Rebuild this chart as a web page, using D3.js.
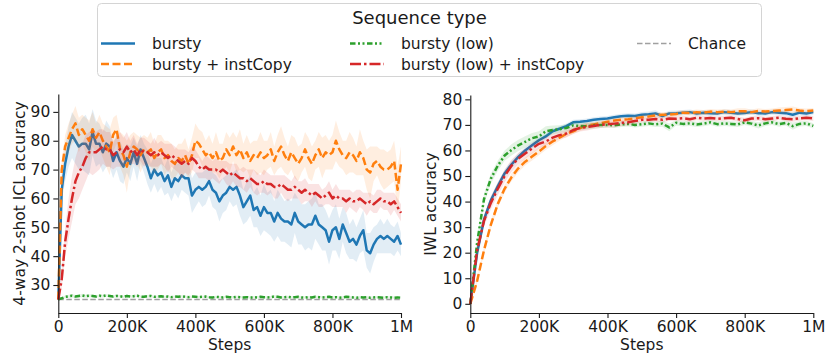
<!DOCTYPE html>
<html><head><meta charset="utf-8">
<script src="https://cdn.jsdelivr.net/npm/d3@7"></script>
<style>
html,body{margin:0;padding:0;background:#fff;}
svg text{font-family:"DejaVu Sans",sans-serif;fill:#1a1a1a;}
</style></head>
<body><svg id="c" width="826" height="354"></svg>
<script>
// ---------- DATA ----------
const seriesNames = ["bursty", "bursty + instCopy", "bursty (low)", "bursty (low) + instCopy"];
const chanceLabel = "Chance";
const legendTitle = "Sequence type";
const leftYLabel = "4-way 2-shot ICL accuracy";
const rightYLabel = "IWL accuracy";
const xLabel = "Steps";
const xTickValues = [0, 200000, 400000, 600000, 800000, 1000000];
const xTickLabels = ["0", "200K", "400K", "600K", "800K", "1M"];
const leftYTicks = [30, 40, 50, 60, 70, 80, 90];
const rightYTicks = [0, 10, 20, 30, 40, 50, 60, 70, 80];
const chanceValue = 25;

// left panel: evaluated every 10K steps
const leftSteps = d3.range(0, 1000001, 10000);
const leftBursty = [25,63,72,78,82,80,78,79,79,77,
 83,79,79,76,79,78,73,76,73,71,
 74,72,76,72,77,74,71,67,70,68,
 69,66,68,64,67,66,68,67,67,61,
 63,64,63,64,66,63,62,59,61,62,
 64,63,64,61,57,59,61,56,57,54,
 57,55,55,52,55,53,52,52,51,55,
 52,51,50,51,51,54,51,50,49,45,
 49,50,46,51,48,45,46,44,47,49,
 42,41,44,46,47,46,47,46,45,47,
 44];
const leftBurstyCopy = [25,70,78,81,84,86,82,84,82,80,
 84,81,83,80,78,76,82,84,77,75,
 71,76,78,77,75,77,76,77,74,76,
 77,74,75,73,72,74,73,75,72,75,
 80,79,77,75,76,74,76,73,74,77,
 75,78,75,77,74,76,73,75,74,76,
 74,75,77,73,76,78,75,73,76,74,
 72,74,77,74,72,75,77,74,76,75,
 76,80,77,75,74,76,75,73,76,74,
 70,69,72,73,71,70,70,71,73,63,
 72];
const leftLow = [25,25.4,25.9,26.1,26.3,26.0,26.2,26.4,26.1,26.3,
 26.2,26.0,26.3,26.1,26.4,26.2,26.0,26.2,26.1,25.9,
 26.2,26.0,26.1,26.3,26.0,25.9,26.1,26.2,25.9,26.0,
 26.1,25.9,26.0,25.8,26.0,25.9,26.1,25.9,25.8,26.0,
 25.9,25.8,25.9,26.0,25.8,25.7,25.9,25.8,25.7,25.9,
 25.8,25.7,25.9,25.8,25.7,25.8,25.6,25.8,25.7,25.9,
 25.8,25.7,25.8,26.0,25.9,25.7,25.8,25.9,25.7,25.8,
 25.9,25.7,25.6,25.8,25.7,25.9,25.8,25.7,25.8,25.9,
 25.7,25.8,25.6,25.7,25.9,25.8,25.7,25.6,25.8,25.7,
 25.8,25.6,25.7,25.8,25.7,25.6,25.8,25.7,25.6,25.7,
 25.6];
const leftLowCopy = [25,32,45,53,60,66,69,71,74,76,
 76,76,77,78,77,77,75,76,77,76,
 78,76,77,75,77,76,76,75,76,75,
 76,75,74,75,74,73,72,73,72,74,
 73,71,70,71,70,70,70,69,70,69,
 68,69,68,67,67,66,67,66,65,65,
 66,65,65,64,64,65,64,63,63,64,
 63,62,63,62,61,62,61,60,61,62,
 60,61,60,60,59,60,59,59,60,59,
 58,59,58,59,60,59,59,58,59,57,
 55];
// band half-widths (left)
const leftBurstyBand = [0,4,6,7,8,8,8,9,10,9,
 8,8,7,7,8,7,6,6,7,6,
 5,6,5,6,5,5,6,5,5,6,
 5,5,6,5,5,6,5,5,6,6,
 6,5,6,6,5,6,6,7,6,6,
 5,6,6,7,6,7,7,6,7,7,
 8,7,8,7,8,8,7,8,8,7,
 8,7,8,8,9,8,7,8,7,8,
 7,8,7,6,7,6,7,6,6,7,
 6,7,6,5,6,5,6,5,5,5,
 4];
const leftBurstyCopyBand = [0,3,4,5,5,6,6,5,6,7,
 6,5,6,6,7,8,6,5,6,7,
 9,6,5,5,6,5,5,6,5,6,
 5,6,5,6,5,5,6,6,5,6,
 6,5,6,5,6,5,7,6,5,6,
 6,5,6,7,5,6,6,5,6,7,
 6,5,6,5,6,7,6,5,6,7,
 6,5,6,7,6,5,6,7,6,5,
 6,7,6,5,6,7,6,5,8,6,
 7,9,6,5,6,7,6,6,7,8,
 6];
const leftLowBand = [0,0.4,0.5,0.5,0.6,0.5,0.5,0.6,0.5,0.5,
 0.5,0.4,0.5,0.5,0.4,0.5,0.4,0.5,0.4,0.4,
 0.4,0.4,0.5,0.4,0.4,0.4,0.4,0.5,0.4,0.4,
 0.4,0.4,0.4,0.4,0.4,0.4,0.4,0.4,0.4,0.4,
 0.4,0.4,0.4,0.4,0.4,0.4,0.4,0.4,0.4,0.4,
 0.4,0.4,0.4,0.4,0.4,0.4,0.4,0.4,0.4,0.4,
 0.4,0.4,0.4,0.5,0.4,0.4,0.4,0.4,0.4,0.4,
 0.4,0.4,0.4,0.4,0.4,0.4,0.4,0.4,0.4,0.4,
 0.4,0.4,0.4,0.4,0.4,0.4,0.4,0.4,0.4,0.4,
 0.4,0.4,0.4,0.4,0.4,0.4,0.4,0.4,0.4,0.4,
 0.4];
const leftLowCopyBand = [0,3,5,7,8,8,9,8,8,7,
 8,7,7,6,6,6,5,5,6,5,
 5,4,5,4,4,5,4,4,5,4,
 4,4,5,4,4,4,5,4,4,4,
 4,4,3,4,4,3,4,4,3,4,
 4,3,4,3,4,4,3,4,4,3,
 4,4,3,4,4,3,4,4,3,4,
 3,4,4,3,4,3,4,3,3,4,
 3,4,3,3,4,3,3,4,3,3,
 4,3,3,4,3,3,3,4,3,3,
 3];

// right panel: evaluated every 20K steps
const rightSteps = d3.range(0, 1000001, 20000);
const rightBursty = [0,20,33,40.5,46,51,54.5,57.5,60,62,
 64,65.5,67.5,68.5,69.5,71,71.2,71.5,72,72.3,
 72.5,73,73.4,73.6,73.5,74,74.2,74.5,73.5,74.5,
 74.6,74.8,75,74.5,74.8,74.6,74.5,75,74.8,74.5,
 74.7,75,74.6,74.5,75,74.8,74.6,74,74.8,74.5,
 75];
const rightBurstyCopy = [0,9,21,31,39,45,49.5,53,55.6,57.6,
 59.6,61.7,63.5,65,66.5,67.5,68.8,69.7,70.2,70.7,
 71.2,71.7,72,72.2,72.6,73,73.3,73.7,74,74,
 74.3,74.8,74.6,75,74.8,75.2,75,75.2,75,75.3,
 75.3,75,75.5,75.2,75.4,75.6,75.8,76,75.6,75.4,
 75.6];
const rightLow = [0,24,41,49,54,58,60.2,62,63.4,64.8,
 65.5,67.5,68,68.3,68.8,69.8,69.6,69.5,69.8,70,
 70,69.8,70.2,70.4,70,70.3,70.6,70.2,70.5,69,
 70.8,70.4,70.6,70.2,70.5,71,70.3,70.6,70.4,70.2,
 71,70.5,69.8,70.6,71,70.3,70.8,69.5,70.4,70.6,
 69.6];
const rightLowCopy = [0,21,32.5,39.5,45,50,54,56.8,58.8,60.8,
 62.6,63.5,65,66,66.6,68,68.8,69.2,69.6,70,
 70.2,70.5,70.8,71,71.5,72,72,72.3,72,72.5,
 72.4,72.6,72.2,72.8,72.5,72.7,72.4,72.6,72.8,72.3,
 71.8,72.5,72.6,72.2,72.5,72.8,72.4,72.2,72.6,72.8,
 72.5];
const rightBurstyBand = [0,1.5,1.5,1.5,1.5,1.5,1.5,1.4,1.3,1.2,
 1.2,1.1,1,1,1,1,1,1,1,1,
 1,1,1,1,1,1,1,1.2,1,1,
 1,1,1,1,1,1,1,1,1,1,
 1,1,1,1,1,1,1,1,1,1,
 1];
const rightBurstyCopyBand = [0,1,1.5,1.5,1.5,1.5,1.5,1.5,1.5,1.5,
 1.5,1.5,1.5,1.2,1.2,1.2,1.2,1.2,1,1,
 1,1,1,1,1,1,1,1,1,1,
 1,1,1,1,1,1,1,1,1,1.2,
 1.2,1,1,1,1,1.2,1.2,1.2,1,1,
 1];
const rightLowBand = [0,2,2,2,2,2,2.2,2.2,2.2,2,
 2,2,1.8,1.6,1.5,1.5,1.4,1.3,1.2,1.2,
 1,1,1,1,1,1,1,1,1.2,1.5,
 1,1,1,1,1,1,1,1,1,1,
 1,1,1.2,1,1,1,1,1.4,1,1,
 1];
const rightLowCopyBand = [0,2,2.2,2.5,2.5,2.5,2.4,2.2,2,2,
 1.8,1.8,1.6,1.5,1.5,1.5,1.4,1.4,1.2,1.2,
 1.2,1.5,1.2,1.2,1.2,1,1,1,1,1,
 1,1,1,1,1,1,1,1,1,1,
 1,1,1,1,1,1,1,1,1,1,
 1];

// ---------- STYLE ----------
const colors = ["#1f77b4", "#ff7f0e", "#2ca02c", "#d62728"];
const dashes = [null, "8,3.5", "5.5,2.5,2,2.5,2,2.5", "11,3,2.5,3"];
const chanceColor = "#a0a0a0";
const chanceDash = "5.5,2.5";
const lineW = 2.5;

const svg = d3.select("#c");

function panel(opts) {
  const x = d3.scaleLinear().domain([0, 1000000]).range(opts.xr);
  const y = d3.scaleLinear().domain(opts.yd).range(opts.yr);
  const g = svg.append("g");
  const steps = opts.steps;
  opts.series.forEach((vals, i) => {
    const band = opts.bands[i];
    const area = d3.area()
      .x((d, j) => x(steps[j]))
      .y0((d, j) => y(vals[j] - band[j]))
      .y1((d, j) => y(vals[j] + band[j]));
    g.append("path").attr("d", area(vals))
      .attr("fill", colors[i]).attr("fill-opacity", 0.13).attr("stroke", "none");
    if (opts.chance && i === 2) {
      g.append("path")
        .attr("d", d3.line()([[x(0), y(chanceValue)], [x(1000000), y(chanceValue)]]))
        .attr("stroke", chanceColor).attr("stroke-width", 1.6)
        .attr("stroke-dasharray", chanceDash).attr("fill", "none");
    }
    const line = d3.line().x((d, j) => x(steps[j])).y(d => y(d));
    g.append("path").attr("d", line(vals))
      .attr("fill", "none").attr("stroke", colors[i]).attr("stroke-width", lineW)
      .attr("stroke-dasharray", dashes[i]).attr("stroke-linejoin", "round");
  });
  // axes
  const xa = d3.axisBottom(x).tickValues(xTickValues)
    .tickFormat((d, i) => xTickLabels[i]).tickSize(5).tickPadding(3).tickSizeOuter(0);
  const ya = d3.axisLeft(y).tickValues(opts.yticks).tickSize(5).tickPadding(3).tickSizeOuter(0);
  const gx = g.append("g").attr("transform", `translate(0,${opts.yr[0]})`).call(xa);
  const gy = g.append("g").attr("transform", `translate(${opts.xr[0]},0)`).call(ya);
  [gx, gy].forEach(a => {
    a.selectAll("text").style("font-size", "15.5px").style("font-family", "DejaVu Sans").attr("fill", "#1a1a1a");
    a.selectAll("line").attr("stroke", "#1a1a1a").attr("stroke-width", 1.1);
    a.select(".domain").attr("stroke", "#1a1a1a").attr("stroke-width", 1.1);
  });
  g.append("text").attr("x", (opts.xr[0] + opts.xr[1]) / 2).attr("y", 350)
    .attr("text-anchor", "middle").style("font-size", "15.5px").text(xLabel);
  g.append("text").attr("transform", `translate(${opts.ylx},${(opts.yr[0] + opts.yr[1]) / 2}) rotate(-90)`)
    .attr("text-anchor", "middle").style("font-size", "15.5px").text(opts.ylabel);
}

panel({
  xr: [58.3, 401], yd: [20.3, 96.2], yr: [313, 94], steps: leftSteps,
  series: [leftBursty, leftBurstyCopy, leftLow, leftLowCopy],
  bands: [leftBurstyBand, leftBurstyCopyBand, leftLowBand, leftLowCopyBand],
  yticks: leftYTicks, ylabel: leftYLabel, ylx: 25, chance: true
});
panel({
  xr: [470.3, 813.3], yd: [-3.6, 81.7], yr: [313, 95], steps: rightSteps,
  series: [rightBursty, rightBurstyCopy, rightLow, rightLowCopy],
  bands: [rightBurstyBand, rightBurstyCopyBand, rightLowBand, rightLowCopyBand],
  yticks: rightYTicks, ylabel: rightYLabel, ylx: 436, chance: false
});

// ---------- LEGEND ----------
const lg = svg.append("g");
lg.append("rect").attr("x", 97.5).attr("y", 3.5).attr("width", 664).attr("height", 73)
  .attr("rx", 4).attr("fill", "#fff").attr("fill-opacity", 0.85)
  .attr("stroke", "#d4d4d4").attr("stroke-width", 1);
lg.append("text").attr("x", 419.5).attr("y", 24).attr("text-anchor", "middle")
  .style("font-size", "18px").text(legendTitle);
const entries = [
  {label: seriesNames[0], color: colors[0], dash: dashes[0], col: 0, row: 0},
  {label: seriesNames[1], color: colors[1], dash: dashes[1], col: 0, row: 1},
  {label: seriesNames[2], color: colors[2], dash: dashes[2], col: 1, row: 0},
  {label: seriesNames[3], color: colors[3], dash: dashes[3], col: 1, row: 1},
  {label: chanceLabel, color: chanceColor, dash: chanceDash, col: 2, row: 0}
];
const colX = [101, 350, 637];
const rowY = [43.5, 64];
entries.forEach(e => {
  const x0 = colX[e.col], yy = rowY[e.row];
  lg.append("line").attr("x1", x0).attr("x2", x0 + 34).attr("y1", yy).attr("y2", yy)
    .attr("stroke", e.color).attr("stroke-width", e.label === chanceLabel ? 1.6 : lineW)
    .attr("stroke-dasharray", e.dash);
  lg.append("text").attr("x", x0 + 51).attr("y", yy + 5.5).style("font-size", "15.5px").text(e.label);
});
</script></body></html>
